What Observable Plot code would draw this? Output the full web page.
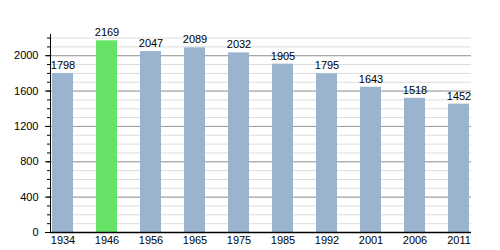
<!DOCTYPE html>
<html>
<head>
<meta charset="utf-8">
<script src="https://cdn.jsdelivr.net/npm/d3@7"></script>
<script src="https://cdn.jsdelivr.net/npm/@observablehq/plot@0.6"></script>
<style>
  html, body { margin: 0; padding: 0; background: #fff; }
  svg { display: block; }
</style>
</head>
<body>
<div id="chart"></div>
<script>
const years = ["1934","1946","1956","1965","1975","1985","1992","2001","2006","2011"];
const population = [1798, 2169, 2047, 2089, 2032, 1905, 1795, 1643, 1518, 1452];
const highlightYear = "1946";
const majorTicks = [0, 400, 800, 1200, 1600, 2000];
const minorTicks = d3.range(0, 2201, 100);

const data = years.map((y, i) => ({year: y, pop: population[i]}));

const chart = Plot.plot({
  width: 500,
  height: 250,
  marginLeft: 50,
  marginRight: 29,
  marginTop: 34,
  marginBottom: 18,
  style: {fontFamily: "'Liberation Sans', Arial, sans-serif", fontSize: "11px", color: "#000", background: "#fff"},
  x: {type: "band", domain: years, paddingInner: 0.53, paddingOuter: 0, label: null},
  y: {domain: [0, 2240], label: null},
  marks: [
    Plot.gridY(minorTicks, {stroke: "#dcdcdc", strokeOpacity: 1}),
    Plot.gridY(majorTicks.filter(d => d > 0), {stroke: "#9a9a9a", strokeOpacity: 1}),
    Plot.barY(data, {x: "year", y: "pop", fill: d => d.year === highlightYear ? "#66e266" : "#9ab3cf"}),
    Plot.text(data, {x: "year", y: "pop", text: d => String(d.pop), dy: -8, fill: "#000", fontSize: 11}),
    Plot.axisY({ticks: minorTicks, tickSize: 3, tickFormat: () => "", stroke: "#000"}),
    Plot.axisY({ticks: majorTicks, tickSize: 5, tickPadding: 7, tickFormat: d => String(d), stroke: "#000", fill: "#000", fontSize: 11}),
    Plot.axisX({tickSize: 0, tickPadding: 4, fill: "#000", fontSize: 11}),
    Plot.ruleY([0], {stroke: "#000", strokeWidth: 1.5}),
    Plot.frame({anchor: "left", stroke: "#000"})
  ]
});
document.getElementById("chart").appendChild(chart);
</script>
</body>
</html>
